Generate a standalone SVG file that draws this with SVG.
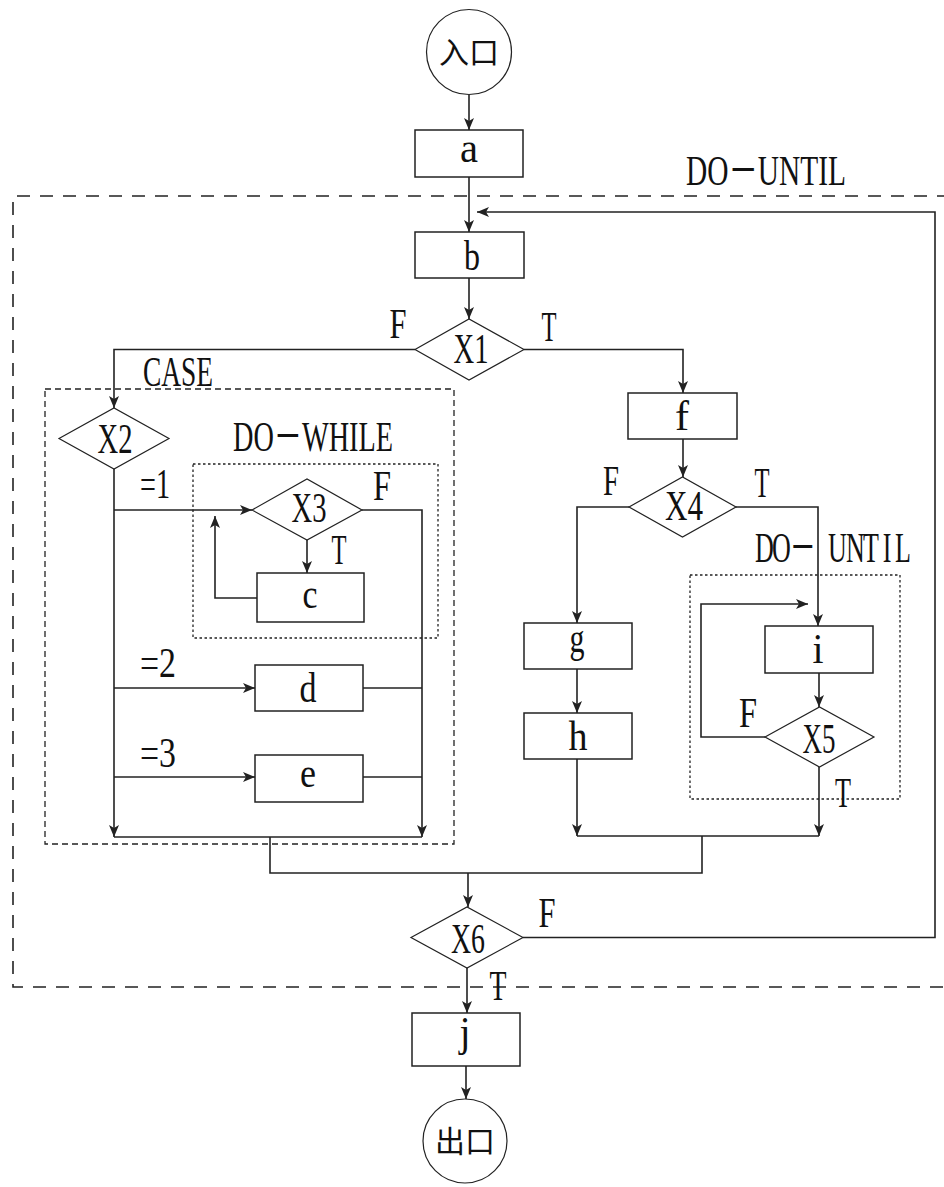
<svg xmlns="http://www.w3.org/2000/svg" width="944" height="1187" viewBox="0 0 944 1187">
<style>
.bg{fill:#fff}
.box{fill:#fff;stroke:#222;stroke-width:1.5}
.dia{fill:#fff;stroke:#222;stroke-width:1.2}
.cir{fill:#fff;stroke:#222;stroke-width:1.2}
.ln{fill:none;stroke:#222;stroke-width:1.6}
.arr{fill:none;stroke:#222;stroke-width:1.6;marker-end:url(#ah)}
.dash{fill:none;stroke:#222;stroke-width:1.6;stroke-dasharray:13 10}
.dash2{fill:none;stroke:#222;stroke-width:1.3;stroke-dasharray:6 4}
.dot{fill:none;stroke:#222;stroke-width:1.3;stroke-dasharray:2.5 2.5}
.t{font-family:"Liberation Serif","Noto Sans CJK SC",serif;font-size:42px;fill:#111;text-anchor:middle}
.ts{font-family:"Liberation Serif","Noto Sans CJK SC",serif;font-size:42px;fill:#111;text-anchor:start}
.cjk{font-family:"Noto Sans CJK SC",sans-serif;font-size:30px;fill:#111;text-anchor:middle}
</style>
<defs>
<marker id="ah" viewBox="0 0 12 10" refX="12" refY="5" markerWidth="12" markerHeight="10" markerUnits="userSpaceOnUse" orient="auto">
<path d="M0,0 L12,5 L0,10 L3,5 z" fill="#222"/>
</marker>
</defs>
<rect class="bg" x="0" y="0" width="944" height="1187"/>

<g id="frames">
<path class="dash" d="M950,196 H13 V987 H950"/>
<rect class="dash2" x="45" y="389" width="409" height="455"/>
<rect class="dot" x="193" y="464" width="245" height="174"/>
<rect class="dot" x="690" y="575" width="210" height="224"/>
<text class="t" x="766" y="185" textLength="160" lengthAdjust="spacingAndGlyphs">DO－UNTIL</text>
<text class="t" x="178" y="386" textLength="70" lengthAdjust="spacingAndGlyphs">CASE</text>
<text class="t" x="313" y="451" textLength="160" lengthAdjust="spacingAndGlyphs">DO－WHILE</text>
<text class="ts" transform="scale(0.62,1)" y="562" x="1217.7 1245.2 1274 1335.5 1364.5 1392 1424 1443.5">DO－UNTIL</text>
</g>

<g id="connectors">
<line class="arr" x1="469" y1="95" x2="469" y2="130"/>
<line class="arr" x1="469" y1="177" x2="469" y2="232"/>
<polyline class="arr" points="523,937.5 935,937.5 935,212 477,212"/>
<line class="arr" x1="469" y1="278" x2="469" y2="319"/>
<polyline class="arr" points="415,349.5 114,349.5 114,408"/>
<polyline class="arr" points="524,349.5 683,349.5 683,393"/>
<line class="arr" x1="114" y1="469" x2="114" y2="837"/>
<line class="arr" x1="114" y1="510" x2="252" y2="510"/>
<polyline class="arr" points="362,510 422,510 422,837"/>
<line class="arr" x1="307" y1="540" x2="307" y2="573"/>
<polyline class="arr" points="257,598 215,598 215,516"/>
<line class="arr" x1="114" y1="688" x2="255" y2="688"/>
<line class="ln" x1="363" y1="688" x2="422" y2="688"/>
<line class="arr" x1="114" y1="777" x2="255" y2="777"/>
<line class="ln" x1="363" y1="777" x2="422" y2="777"/>
<line class="ln" x1="114" y1="837" x2="422" y2="837"/>
<polyline class="ln" points="270,837 270,873 702,873 702,836"/>
<line class="arr" x1="683" y1="439" x2="683" y2="477"/>
<polyline class="arr" points="629,507 577,507 577,623"/>
<polyline class="arr" points="736,507 818,507 818,626"/>
<line class="arr" x1="577" y1="669" x2="577" y2="713"/>
<line class="arr" x1="577" y1="759" x2="577" y2="836"/>
<line class="arr" x1="819" y1="673" x2="819" y2="707"/>
<polyline class="arr" points="765,737 701,737 701,604 808,604"/>
<line class="arr" x1="819" y1="767" x2="819" y2="836"/>
<line class="ln" x1="577" y1="836" x2="819" y2="836"/>
<line class="arr" x1="468" y1="873" x2="468" y2="907"/>
<line class="arr" x1="467" y1="968" x2="467" y2="1013"/>
<line class="arr" x1="466" y1="1066" x2="466" y2="1099"/>
</g>

<g id="entry">
<circle class="cir" cx="469" cy="52" r="42.5"/>
<text class="cjk" x="469" y="63">入口</text>
</g>
<g id="node-a">
<rect class="box" x="415" y="130" width="108" height="47"/>
<text class="t" x="469" y="162" textLength="18" lengthAdjust="spacingAndGlyphs">a</text>
</g>
<g id="node-b">
<rect class="box" x="415" y="232" width="109" height="46"/>
<text class="t" x="472" y="270" textLength="16" lengthAdjust="spacingAndGlyphs">b</text>
</g>
<g id="node-X1">
<polygon class="dia" points="415,349.5 469,319 524,349.5 469,380"/>
<text class="t" x="471" y="363" textLength="35" lengthAdjust="spacingAndGlyphs">X1</text>
<text class="t" x="398" y="338" textLength="17" lengthAdjust="spacingAndGlyphs">F</text>
<text class="t" x="549" y="341" textLength="15" lengthAdjust="spacingAndGlyphs">T</text>
</g>
<g id="node-X2">
<polygon class="dia" points="59,438.5 114,408 169,438.5 114,469"/>
<text class="t" x="115" y="453" textLength="35" lengthAdjust="spacingAndGlyphs">X2</text>
<text class="t" x="155" y="498" textLength="30" lengthAdjust="spacingAndGlyphs">=1</text>
<text class="t" x="158" y="677" textLength="36" lengthAdjust="spacingAndGlyphs">=2</text>
<text class="t" x="158" y="767" textLength="36" lengthAdjust="spacingAndGlyphs">=3</text>
</g>
<g id="node-X3">
<polygon class="dia" points="252,510 307,479 362,510 307,540"/>
<text class="t" x="309" y="522" textLength="35" lengthAdjust="spacingAndGlyphs">X3</text>
<text class="t" x="382" y="500" textLength="18" lengthAdjust="spacingAndGlyphs">F</text>
<text class="t" x="339" y="564" textLength="15" lengthAdjust="spacingAndGlyphs">T</text>
</g>
<g id="node-c">
<rect class="box" x="257" y="573" width="107" height="49"/>
<text class="t" x="310" y="608" textLength="15" lengthAdjust="spacingAndGlyphs">c</text>
</g>
<g id="node-d">
<rect class="box" x="255" y="665" width="108" height="46"/>
<text class="t" x="308" y="702" textLength="17" lengthAdjust="spacingAndGlyphs">d</text>
</g>
<g id="node-e">
<rect class="box" x="255" y="755" width="108" height="47"/>
<text class="t" x="308" y="787" textLength="16" lengthAdjust="spacingAndGlyphs">e</text>
</g>
<g id="node-f">
<rect class="box" x="628" y="393" width="109" height="46"/>
<text class="t" x="682" y="430" textLength="14" lengthAdjust="spacingAndGlyphs">f</text>
</g>
<g id="node-X4">
<polygon class="dia" points="629,507 682.5,477 736,507 682.5,537"/>
<text class="t" x="684" y="520" textLength="38" lengthAdjust="spacingAndGlyphs">X4</text>
<text class="t" x="611" y="495" textLength="16" lengthAdjust="spacingAndGlyphs">F</text>
<text class="t" x="762" y="497" textLength="15" lengthAdjust="spacingAndGlyphs">T</text>
</g>
<g id="node-g">
<rect class="box" x="524" y="623" width="108" height="46"/>
<text class="t" x="577" y="652" textLength="15" lengthAdjust="spacingAndGlyphs">g</text>
</g>
<g id="node-h">
<rect class="box" x="524" y="713" width="108" height="46"/>
<text class="t" x="578" y="750" textLength="19" lengthAdjust="spacingAndGlyphs">h</text>
</g>
<g id="node-i">
<rect class="box" x="765" y="626" width="108" height="47"/>
<text class="t" x="818" y="663" textLength="11" lengthAdjust="spacingAndGlyphs">i</text>
</g>
<g id="node-X5">
<polygon class="dia" points="765,737 819.5,707 874,737 819.5,767"/>
<text class="t" x="819" y="753" textLength="33" lengthAdjust="spacingAndGlyphs">X5</text>
<text class="t" x="748" y="727" textLength="18" lengthAdjust="spacingAndGlyphs">F</text>
<text class="t" x="843" y="807" textLength="16" lengthAdjust="spacingAndGlyphs">T</text>
</g>
<g id="node-X6">
<polygon class="dia" points="411,937.5 467,907 523,937.5 467,968"/>
<text class="t" x="468" y="953" textLength="34" lengthAdjust="spacingAndGlyphs">X6</text>
<text class="t" x="547" y="927" textLength="17" lengthAdjust="spacingAndGlyphs">F</text>
<text class="t" x="498" y="1000" textLength="17" lengthAdjust="spacingAndGlyphs">T</text>
</g>
<g id="node-j">
<rect class="box" x="412" y="1013" width="108" height="53"/>
<text class="t" x="465" y="1046" textLength="11" lengthAdjust="spacingAndGlyphs">j</text>
</g>
<g id="exit">
<circle class="cir" cx="465" cy="1141" r="42"/>
<text class="cjk" x="465" y="1152">出口</text>
</g>
</svg>
